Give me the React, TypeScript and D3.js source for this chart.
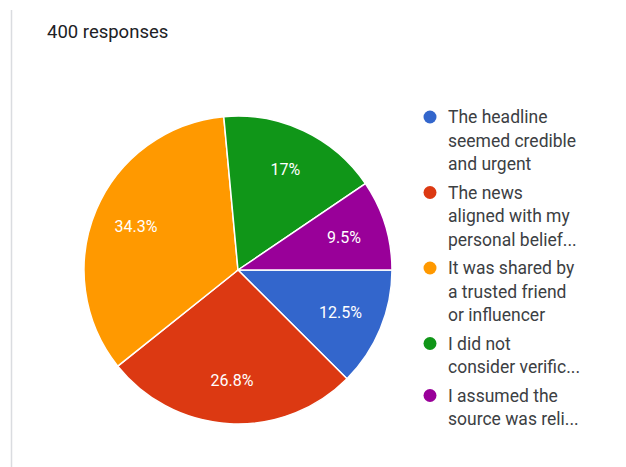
import React from "react";
import * as d3 from "d3";

const title = "400 responses";
const categories = [
  ["The headline", "seemed credible", "and urgent"],
  ["The news", "aligned with my", "personal belief..."],
  ["It was shared by", "a trusted friend", "or influencer"],
  ["I did not", "consider verific..."],
  ["I assumed the", "source was reli..."],
];
const values = [12.5, 26.8, 34.3, 17, 9.5];
const labels = ["12.5%", "26.8%", "34.3%", "17%", "9.5%"];
const colors = ["#3366cc", "#dc3912", "#ff9900", "#109618", "#990099"];

const W = 626;
const H = 467;

export default function App() {
  const cx = 238;
  const cy = 270;
  const r = 154;
  const pie = d3
    .pie<number>()
    .sort(null)
    .startAngle(Math.PI / 2)
    .endAngle(Math.PI / 2 + 2 * Math.PI)(values);
  const arc = d3.arc<d3.PieArcDatum<number>>().innerRadius(0).outerRadius(r);
  const labelArc = d3
    .arc<d3.PieArcDatum<number>>()
    .innerRadius(r * 0.72)
    .outerRadius(r * 0.72);

  const lineH = 23.5;
  const gap = 5;
  let y = 117;
  const legendItems = categories.map((lines, i) => {
    const item = { lines, y, i };
    y += lines.length * lineH + gap;
    return item;
  });

  return (
    <svg
      width={W}
      height={H}
      style={{ position: "absolute", left: 0, top: 0, background: "#fff" }}
      fontFamily="Roboto, Arial, sans-serif"
    >
      <rect x={0} y={0} width={W} height={H} fill="#fff" />
      <line x1={11.5} y1={10} x2={11.5} y2={H} stroke="#dadce0" strokeWidth={1.5} />
      <text x={47} y={38} fontSize={18.5} fill="#202124">
        {title}
      </text>
      <g transform={`translate(${cx},${cy})`}>
        {pie.map((d, i) => (
          <path key={i} d={arc(d) || ""} fill={colors[i]} stroke="#fff" strokeWidth={1.5} />
        ))}
        {pie.map((d, i) => {
          const [lx, ly] = labelArc.centroid(d);
          return (
            <text
              key={i}
              x={lx}
              y={ly}
              fontSize={16}
              fill="#fff"
              textAnchor="middle"
              dominantBaseline="central"
            >
              {labels[i]}
            </text>
          );
        })}
      </g>
      <g>
        {legendItems.map((it) => (
          <g key={it.i}>
            <circle cx={430} cy={it.y} r={6.5} fill={colors[it.i]} />
            {it.lines.map((ln, j) => (
              <text
                key={j}
                x={448}
                y={it.y + j * lineH}
                fontSize={17.5}
                fill="#3c4043"
                dominantBaseline="central"
              >
                {ln}
              </text>
            ))}
          </g>
        ))}
      </g>
    </svg>
  );
}
